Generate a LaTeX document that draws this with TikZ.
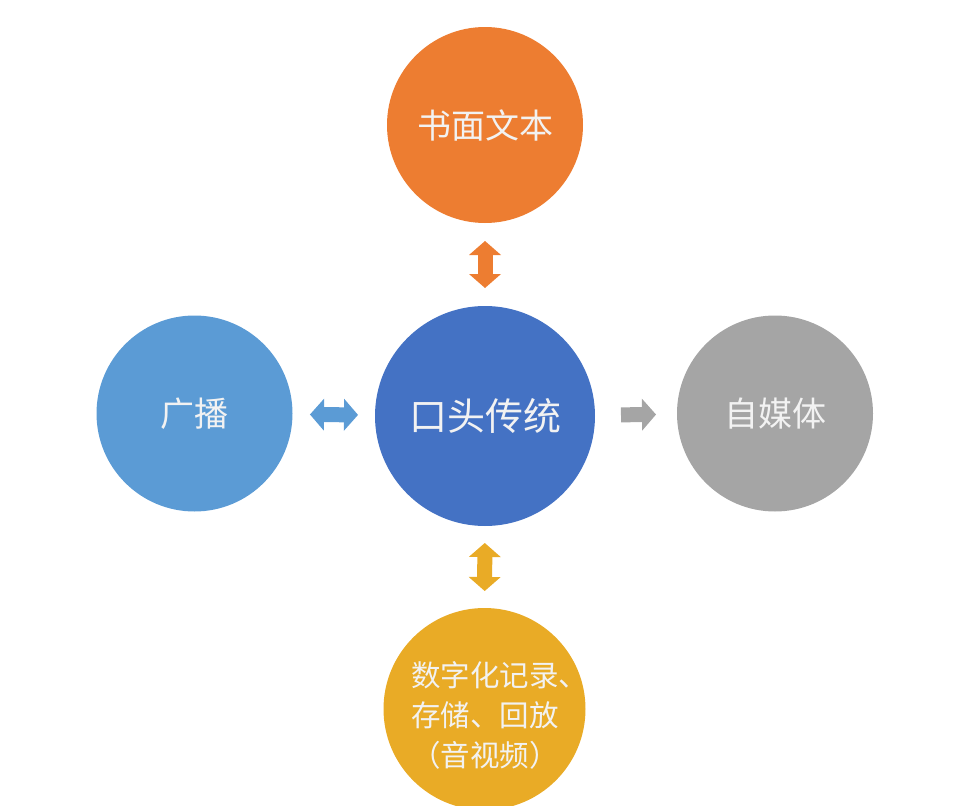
\documentclass[tikz,border=0pt]{standalone}
\usepackage{fontspec}
\newfontfamily\cjk{Noto Sans CJK SC}
\usetikzlibrary{arrows.meta}
\definecolor{cKoutou}{HTML}{4472C4}
\definecolor{cShumian}{HTML}{ED7D31}
\definecolor{cGuangbo}{HTML}{5B9BD5}
\definecolor{cZimeiti}{HTML}{A5A5A5}
\definecolor{cShuzi}{HTML}{E9AB26}
\definecolor{cText}{HTML}{F2F2F2}

\begin{document}
\begin{tikzpicture}[x=1pt, y=-1pt, >={Triangle[width=32pt,length=14pt,line width=0pt]}]
\tikzstyle{every node}=[circle,inner sep=0pt,outer sep=0pt,text=cText,align=center,font=\cjk\fontsize{34}{40}\selectfont]
\tikzstyle{blk}=[line width=15pt]

\useasboundingbox (0,0) rectangle (954,806);

\node[fill=cKoutou,minimum size=220pt,font=\cjk\fontsize{38}{44}\selectfont] (koutou) at (485.00,416.00) {口头传统};
\node[fill=cShumian,minimum size=196pt] (shumian) at (485.00,125.00) {书面文本};
\node[fill=cGuangbo,minimum size=196pt] (guangbo) at (194.50,413.50) {广播};
\node[fill=cZimeiti,minimum size=196pt] (zimeiti) at (775.00,413.50) {自媒体};
\node[fill=cShuzi,minimum size=202pt] (shuzi) at (484.50,709.00) {};
\node[font=\cjk\fontsize{29.5}{40}\selectfont] (shuzitext) at (485.00,715.00) {数字化记录\rlap{、}\\存储、回放\\（音视频）};

\draw[blk,cShumian,<->,shorten <=18pt,shorten >=18pt] (koutou) -- (shumian);
\draw[blk,cGuangbo,<->,shorten <=17pt,shorten >=17.5pt] (koutou) -- (guangbo);
\draw[blk,cZimeiti,->,shorten <=26pt,shorten >=21pt] (koutou) -- (zimeiti);
\draw[blk,cShuzi,<->,shorten <=17pt,shorten >=17pt] (koutou) -- (shuzi);
\end{tikzpicture}
\end{document}
